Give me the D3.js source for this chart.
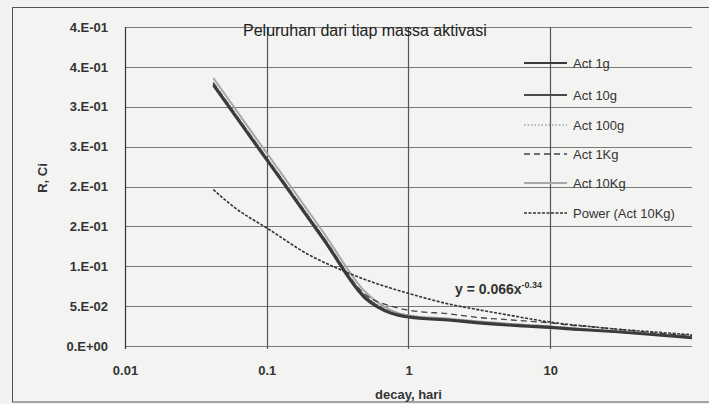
<!DOCTYPE html>
<meta charset="utf-8">
<style>
  body { margin: 0; background: #f2f2f0; }
  svg { display: block; font-family: "Liberation Sans", Arial, sans-serif; }
  .tick text { font-size: 13px; font-weight: bold; fill: #333; }
</style>
<body>
<script src="https://d3js.org/d3.v7.min.js"></script>
<script>

// time, days
var days = [0.042, 0.083, 0.125, 0.25, 0.5, 0.75, 1, 2, 3, 5, 7, 10, 14, 20, 30, 50, 100];

// activity R (Ci) for each mass
var act1g   = [0.327, 0.253, 0.209, 0.134, 0.059, 0.041, 0.036, 0.032, 0.029, 0.026, 0.0245, 0.023, 0.021, 0.0195, 0.0175, 0.0145, 0.010];
var act10g  = [0.329, 0.255, 0.211, 0.136, 0.061, 0.042, 0.037, 0.033, 0.030, 0.027, 0.0255, 0.024, 0.022, 0.020, 0.018, 0.015, 0.011];
var act100g = [0.331, 0.257, 0.213, 0.138, 0.063, 0.044, 0.039, 0.034, 0.031, 0.028, 0.027, 0.025, 0.023, 0.021, 0.019, 0.016, 0.012];
var act1Kg  = [0.330, 0.256, 0.212, 0.137, 0.064, 0.050, 0.045, 0.040, 0.036, 0.033, 0.031, 0.029, 0.026, 0.024, 0.021, 0.017, 0.013];
var act10Kg = [0.336, 0.262, 0.218, 0.143, 0.067, 0.045, 0.038, 0.034, 0.031, 0.028, 0.026, 0.0245, 0.0225, 0.0205, 0.0185, 0.0155, 0.0115];

// power trendline of Act 10Kg
var powerDays = [0.042, 0.06, 0.1, 0.2, 0.3, 0.5, 1, 2, 3, 5, 10, 20, 30, 50, 100];
var powerVals = [0.196, 0.173, 0.148, 0.114, 0.099, 0.083, 0.066, 0.052, 0.046, 0.039, 0.030, 0.024, 0.021, 0.018, 0.014];

var seriesNames = ["Act 1g", "Act 10g", "Act 100g", "Act 1Kg", "Act 10Kg", "Power (Act 10Kg)"];

var xTicks = [0.01, 0.1, 1, 10];
var xTickLabels = ["0.01", "0.1", "1", "10"];
var yTicks = [0, 0.05, 0.1, 0.15, 0.2, 0.25, 0.3, 0.35, 0.4];

var W = 709, H = 404;
var plotL = 125, plotR = 692, plotT = 27, plotB = 346;

var svg = d3.select("body").append("svg")
  .attr("width", W)
  .attr("height", H);

// outer chart border
svg.append("rect")
  .attr("x", 12.5).attr("y", 7.5)
  .attr("width", 720).attr("height", 394.5)
  .attr("fill", "#f3f3f1")
  .attr("stroke", "#555")
  .attr("stroke-width", 1);

var x = d3.scaleLog().domain([0.01, 100]).range([plotL, plotR]);
var y = d3.scaleLinear().domain([0, 0.4]).range([plotB, plotT]);

// excel style "4.E-01"
function sci(d) {
  if (d === 0) return "0.E+00";
  var e = Math.floor(Math.log10(d) + 1e-9);
  var m = Math.round(d / Math.pow(10, e) + 1e-9);
  if (m === 10) { m = 1; e += 1; }
  var s = String(Math.abs(e)).padStart(2, "0");
  return m + ".E" + (e < 0 ? "-" : "+") + s;
}

// horizontal grid
svg.append("g")
  .selectAll("line")
  .data(yTicks)
  .enter().append("line")
  .attr("x1", plotL).attr("x2", plotR)
  .attr("y1", function (d) { return Math.round(y(d)) + 0.5; })
  .attr("y2", function (d) { return Math.round(y(d)) + 0.5; })
  .attr("stroke", "#7a7a7a")
  .attr("stroke-width", 1.2);

// vertical grid at decades
svg.append("g")
  .selectAll("line")
  .data(xTicks)
  .enter().append("line")
  .attr("x1", function (d) { return Math.round(x(d)) + 0.5; })
  .attr("x2", function (d) { return Math.round(x(d)) + 0.5; })
  .attr("y1", plotT).attr("y2", plotB + 3)
  .attr("stroke", function (d) { return d === 0.01 ? "#333" : "#555"; })
  .attr("stroke-width", 1.2);

// axes (labels only)
var yAxis = svg.append("g")
  .attr("transform", "translate(" + (plotL - 3) + ",0)")
  .call(d3.axisLeft(y).tickValues(yTicks).tickFormat(sci).tickSize(0).tickPadding(14));
yAxis.select(".domain").remove();

var xAxis = svg.append("g")
  .attr("transform", "translate(0," + plotB + ")")
  .call(d3.axisBottom(x).tickValues(xTicks)
    .tickFormat(function (d, i) { return xTickLabels[i]; })
    .tickSize(0).tickPadding(20));
xAxis.select(".domain").remove();

// title
svg.append("text")
  .attr("x", 243).attr("y", 36)
  .attr("font-size", "16px")
  .attr("fill", "#222")
  .text("Peluruhan dari tiap massa aktivasi");

// axis titles
svg.append("text")
  .attr("x", (plotL + plotR) / 2).attr("y", 399)
  .attr("text-anchor", "middle")
  .attr("font-size", "13px").attr("font-weight", "bold")
  .attr("fill", "#333")
  .text("decay, hari");

svg.append("text")
  .attr("transform", "translate(47,178) rotate(-90)")
  .attr("text-anchor", "middle")
  .attr("font-size", "13px").attr("font-weight", "bold")
  .attr("fill", "#333")
  .text("R, Ci");

// series styles
var styles = [
  { color: "#3a3a3a", width: 2.6, dash: null },
  { color: "#4a4a4a", width: 2.0, dash: null },
  { color: "#777", width: 1.0, dash: "1.5,2" },
  { color: "#444", width: 1.3, dash: "6,4" },
  { color: "#a8a8a8", width: 2.0, dash: null },
  { color: "#333", width: 1.6, dash: "3,1.5" }
];

var seriesVals = [act1g, act10g, act100g, act1Kg, act10Kg];

var line = d3.line()
  .x(function (d) { return x(d[0]); })
  .y(function (d) { return y(d[1]); })
  .curve(d3.curveMonotoneX);

// draw order: light first
var drawOrder = [4, 2, 3, 1, 0];
drawOrder.forEach(function (i) {
  var pts = days.map(function (t, k) { return [t, seriesVals[i][k]]; });
  svg.append("path")
    .datum(pts)
    .attr("d", line)
    .attr("fill", "none")
    .attr("stroke", styles[i].color)
    .attr("stroke-width", styles[i].width)
    .attr("stroke-dasharray", styles[i].dash);
});

svg.append("path")
  .datum(powerDays.map(function (t, k) { return [t, powerVals[k]]; }))
  .attr("d", line)
  .attr("fill", "none")
  .attr("stroke", styles[5].color)
  .attr("stroke-width", styles[5].width)
  .attr("stroke-dasharray", styles[5].dash);

// trendline equation
var eq = svg.append("text")
  .attr("x", 455).attr("y", 294)
  .attr("font-size", "14px").attr("font-weight", "bold")
  .attr("fill", "#333");
eq.append("tspan").text("y = 0.066x");
eq.append("tspan").attr("dy", -6).attr("font-size", "9px").text("-0.34");

// legend
var legendY = [63, 95, 125, 154, 183, 213];
var lg = svg.append("g");
seriesNames.forEach(function (name, i) {
  var yy = legendY[i];
  lg.append("line")
    .attr("x1", 524).attr("x2", 567)
    .attr("y1", yy).attr("y2", yy)
    .attr("stroke", styles[i].color)
    .attr("stroke-width", Math.min(styles[i].width, 2))
    .attr("stroke-dasharray", styles[i].dash);
  lg.append("text")
    .attr("x", 573).attr("y", yy + 4.5)
    .attr("font-size", "13px")
    .attr("fill", "#333")
    .text(name);
});

</script>
</body>
